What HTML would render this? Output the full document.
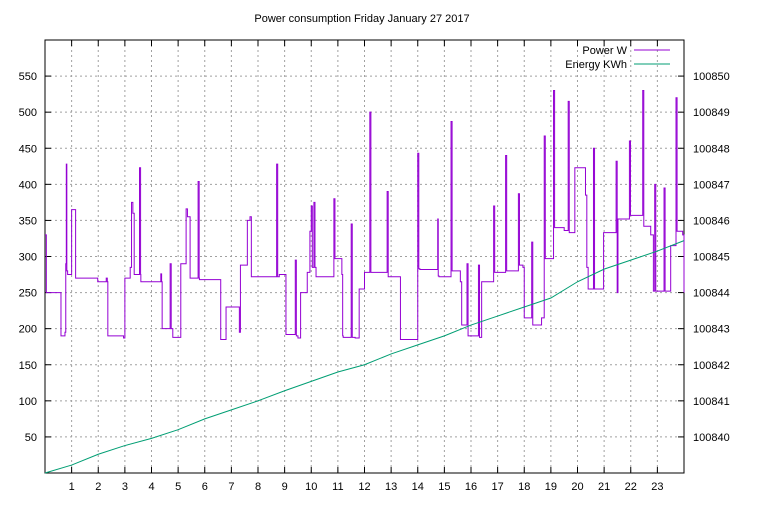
<!DOCTYPE html>
<html><head><meta charset="utf-8"><style>
body{margin:0;background:#fff;}
svg text{font-family:"Liberation Sans",sans-serif;font-size:11px;fill:#000;}
</style></head><body>
<svg id="chart" width="768" height="500">
<text x="362" y="22" text-anchor="middle">Power consumption Friday January 27 2017</text>
<g id="grid"></g><g id="axes"></g><g id="series"></g>
<g>
<text x="627" y="54" text-anchor="end">Power W</text>
<line x1="634" y1="50" x2="670" y2="50" stroke="#9400d3" stroke-width="1"/>
<text x="627" y="68" text-anchor="end">Energy KWh</text>
<line x1="634" y1="64" x2="670" y2="64" stroke="#009e73" stroke-width="1"/>
</g>
</svg>
<script>
const xTicks=[1,2,3,4,5,6,7,8,9,10,11,12,13,14,15,16,17,18,19,20,21,22,23];
const yTicks=[50,100,150,200,250,300,350,400,450,500,550];
const y2Ticks=[100840,100841,100842,100843,100844,100845,100846,100847,100848,100849,100850];
const powerHours=[0,0.05,0.6,0.75,0.78,0.8,0.82,0.85,0.95,1.0,1.15,1.98,2.3,2.34,2.36,2.95,3.0,3.2,3.25,3.3,3.35,3.55,3.59,3.6,4.35,4.38,4.4,4.7,4.74,4.8,5.1,5.3,5.35,5.45,5.5,5.75,5.79,5.8,6.6,6.8,7.3,7.34,7.36,7.6,7.7,7.75,8.7,8.74,8.8,9.05,9.4,9.44,9.5,9.6,9.85,9.95,10.0,10.04,10.1,10.14,10.18,10.85,10.89,10.92,11.15,11.18,11.2,11.5,11.54,11.65,11.8,12.0,12.2,12.24,12.3,12.85,12.89,12.92,13.35,13.9,14.0,14.04,14.08,14.75,14.77,14.8,15.25,15.29,15.33,15.6,15.65,15.85,15.89,15.92,16.28,16.32,16.4,16.85,16.89,16.92,17.3,17.34,17.38,17.78,17.82,17.86,17.95,18.0,18.28,18.32,18.36,18.65,18.75,18.79,18.82,19.1,19.14,19.18,19.5,19.65,19.69,19.72,19.9,20.3,20.35,20.4,20.6,20.64,20.68,20.98,21.45,21.49,21.52,21.6,21.95,21.99,22.02,22.45,22.49,22.52,22.75,22.85,22.9,22.94,22.97,23.25,23.29,23.32,23.5,23.7,23.74,23.77,23.95,24];
const powerValues=[330,250,190,195,290,428,280,275,275,365,270,265,270,265,190,187,270,285,375,360,275,423,275,265,276,265,200,290,200,188,290,366,355,270,270,404,270,268,185,230,195,288,288,350,355,272,428,272,275,192,295,190,187,250,278,335,370,285,375,285,272,380,297,297,275,190,188,345,188,187,255,278,500,278,278,390,272,272,185,185,443,283,282,352,273,272,487,280,280,265,205,290,190,190,288,188,265,370,278,278,440,280,280,387,288,288,285,215,320,205,205,215,467,297,297,530,340,340,336,515,333,333,423,385,285,255,450,255,255,333,432,250,352,352,460,357,357,530,342,342,330,252,400,252,252,395,252,252,315,520,335,335,330,250];
const energyHours=[0,1,2,3,4,5,6,7,8,9,10,11,12,13,14,15,16,17,18,19,20,21,22,23,24];
const energyValues=[100839.0,100839.22,100839.52,100839.76,100839.96,100840.2,100840.5,100840.75,100841.0,100841.28,100841.54,100841.8,100842.0,100842.3,100842.55,100842.8,100843.1,100843.35,100843.6,100843.85,100844.3,100844.65,100844.9,100845.15,100845.44];

const L=45,R=684,T=40,B=473;
const X=h=>L+(h/24)*(R-L);
const Y=v=>B-(v/600)*(B-T);
const Y2=k=>Y((k-100839)*50);
const NS="http://www.w3.org/2000/svg";
function mk(tag,attrs,parent){const e=document.createElementNS(NS,tag);for(const k in attrs)e.setAttribute(k,attrs[k]);parent.appendChild(e);return e;}
const grid=document.getElementById('grid'),axes=document.getElementById('axes'),series=document.getElementById('series');
xTicks.forEach(t=>{
  const g=mk('line',{x1:X(t),x2:X(t),y1:T,y2:B,stroke:'#a0a0a0','stroke-dasharray':'2,3'},grid);
  
  
  mk('line',{x1:X(t),x2:X(t),y1:B,y2:B-6,stroke:'#000'},axes);
  mk('line',{x1:X(t),x2:X(t),y1:T,y2:T+6,stroke:'#000'},axes);
  const tx=mk('text',{x:X(t),y:B+17,'text-anchor':'middle'},axes);
  tx.textContent=t;
  
  
});
yTicks.forEach(t=>{
  const g=mk('line',{x1:L,x2:R,y1:Y(t),y2:Y(t),stroke:'#a0a0a0','stroke-dasharray':'2,3'},grid);
  
  
  mk('line',{x1:L,x2:L+6,y1:Y(t),y2:Y(t),stroke:'#000'},axes);
  const tx=mk('text',{x:L-8,y:Y(t)+4,'text-anchor':'end'},axes);
  tx.textContent=t;
  
  
});
y2Ticks.forEach(t=>{
  mk('line',{x1:R-6,x2:R,y1:Y2(t),y2:Y2(t),stroke:'#000'},axes);
  const tx=mk('text',{x:R+9,y:Y2(t)+4,'text-anchor':'start'},axes);
  tx.textContent=t;
  
  
});
const fr=mk('rect',{x:L,y:T,width:R-L,height:B-T,fill:'none',stroke:'#000'},axes);


let d='M'+X(powerHours[0])+' '+Y(powerValues[0]);
for(let i=1;i<powerHours.length;i++){d+=' H'+X(powerHours[i])+' V'+Y(powerValues[i]);}
const pw=mk('path',{d:d,fill:'none',stroke:'#9400d3','stroke-width':1},series);


const en=mk('polyline',{points:energyHours.map((h,i)=>X(h)+','+Y2(energyValues[i])).join(' '),fill:'none',stroke:'#009e73','stroke-width':1},series);


</script>
</body></html>
